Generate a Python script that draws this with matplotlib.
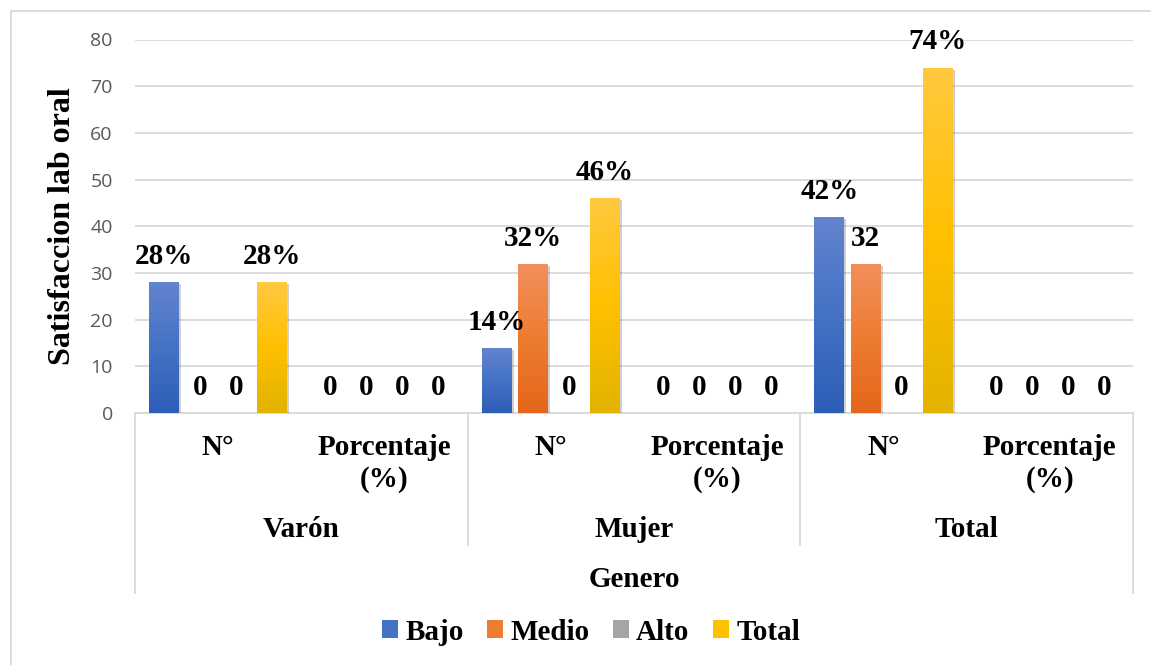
import numpy as np
import matplotlib
matplotlib.use("Agg")
import matplotlib.pyplot as plt
from matplotlib.colors import LinearSegmentedColormap
from matplotlib.patches import Patch
from matplotlib.lines import Line2D
import matplotlib.patheffects as pe

# ---- data -------------------------------------------------------------
groups = ["Varón", "Mujer", "Total"]
subcats = ["N°", "Porcentaje\n(%)"]
series = ["Bajo", "Medio", "Alto", "Total"]

# one value per sub-category: Varón N°, Varón %, Mujer N°, Mujer %, Total N°, Total %
bajo = [28, 0, 14, 0, 42, 0]
medio = [0, 0, 32, 0, 32, 0]
alto = [0, 0, 0, 0, 0, 0]
total = [28, 0, 46, 0, 74, 0]

labels_bajo = ["28%", "0", "14%", "0", "42%", "0"]
labels_medio = ["0", "0", "32%", "0", "32", "0"]
labels_alto = ["0", "0", "0", "0", "0", "0"]
labels_total = ["28%", "0", "46%", "0", "74%", "0"]

y_ticks = [0, 10, 20, 30, 40, 50, 60, 70, 80]
y_title = "Satisfaccion lab oral"
outer_title = "Genero"

# ---- style ------------------------------------------------------------
SERIF = "Liberation Serif"
FS = 21
W, H = 1151, 665
grad_colors = {
    "Bajo": ["#2D5DB7", "#4472C4", "#6384CF"],
    "Medio": ["#E4661A", "#ED7D31", "#F28F5C"],
    "Alto": ["#929292", "#A5A5A5", "#B5B5B5"],
    "Total": ["#E3B300", "#FFC000", "#FFC93F"],
}
solid = {"Bajo": "#4472C4", "Medio": "#ED7D31", "Alto": "#A5A5A5", "Total": "#FFC000"}

fig = plt.figure(figsize=(W / 100, H / 100), dpi=100)
fig.patch.set_facecolor("white")

ax_left, ax_right, ax_top, ax_bottom = 135, 1133, 39.5, 413
ax = fig.add_axes([ax_left / W, 1 - ax_bottom / H,
                   (ax_right - ax_left) / W, (ax_bottom - ax_top) / H])

n = len(bajo)
offsets = [-0.325, -0.108, 0.108, 0.325]
width = 0.18
grad = np.linspace(0, 1, 256).reshape(-1, 1)

all_vals = [bajo, medio, alto, total]
all_labels = [labels_bajo, labels_medio, labels_alto, labels_total]

for k, name in enumerate(series):
    xs = np.arange(n) + 0.5 + offsets[k]
    cmap = LinearSegmentedColormap.from_list(name, grad_colors[name])
    bars = ax.bar(xs, all_vals[k], width, color=solid[name], zorder=3,
                  path_effects=[pe.SimplePatchShadow(offset=(1.5, -1.5),
                                                     shadow_rgbFace="black",
                                                     alpha=0.18),
                                pe.Normal()])
    for bar, lab in zip(bars, all_labels[k]):
        h = bar.get_height()
        x0 = bar.get_x()
        if h > 0:
            im = ax.imshow(grad, extent=[x0, x0 + width, 0, h], cmap=cmap,
                           aspect="auto", origin="lower", zorder=3.5,
                           interpolation="bilinear")
            im.set_clip_path(bar)
        ax.annotate(lab, (x0 + width / 2, h), xytext=(0, 13),
                    textcoords="offset points", ha="center", va="baseline",
                    fontsize=FS, fontweight="bold", family=SERIF,
                    color="black", annotation_clip=False, zorder=5)

ax.set_xlim(0, n)
ax.set_ylim(0, 80)
ax.set_yticks(y_ticks)
ax.set_xticks([])
ax.yaxis.grid(True, color="#D9D9D9", lw=1.3)
ax.set_axisbelow(True)
for s in ["top", "left", "right"]:
    ax.spines[s].set_visible(False)
ax.spines["bottom"].set_color("#D9D9D9")
ax.spines["bottom"].set_linewidth(1.3)
ax.tick_params(axis="y", length=0, pad=16, labelsize=14, labelcolor="#595959")
for t in ax.get_yticklabels():
    t.set_family("Open Sans")

# ---- multi-level category axis ----------------------------------------
ppx = ax_bottom - ax_top


def ay(py):
    return (ax_bottom - py) / ppx


xt = ax.get_xaxis_transform()
line_kw = dict(color="#D9D9D9", lw=1.3, transform=xt, clip_on=False)
for xv in [0, n]:
    ax.add_line(Line2D([xv, xv], [0, ay(593)], **line_kw))
for xv in [2, 4]:
    ax.add_line(Line2D([xv, xv], [0, ay(545)], **line_kw))

txt_kw = dict(transform=xt, ha="center", va="baseline", fontsize=FS,
              fontweight="bold", family=SERIF, clip_on=False)
for i in range(n):
    lab = subcats[i % 2]
    for j, line in enumerate(lab.split("\n")):
        ax.text(i + 0.5, ay(455 + 32 * j), line, **txt_kw)
for g, name in enumerate(groups):
    ax.text(2 * g + 1, ay(537), name, **txt_kw)
ax.text(n / 2, ay(587), outer_title, **txt_kw)

# ---- axis title -------------------------------------------------------
fig.text(63 / W, 1 - 226 / H, y_title, rotation=90, ha="center", va="center",
         fontsize=23, fontweight="bold", family=SERIF)

# ---- legend -----------------------------------------------------------
handles = [Patch(facecolor=solid[s], edgecolor="none") for s in series]
fig.legend(handles, series, loc="center", bbox_to_anchor=(591 / W, 1 - 632 / H),
           ncol=4, frameon=False, handlelength=0.55, handleheight=0.55,
           handletextpad=0.25, columnspacing=0.8,
           prop={"family": SERIF, "weight": "bold", "size": FS})

# ---- outer chart frame --------------------------------------------------
frame_kw = dict(color="#D9D9D9", lw=1.3, transform=None)
fig.add_artist(Line2D([11, W], [H - 11, H - 11], **frame_kw))
fig.add_artist(Line2D([11, 11], [0, H - 11], **frame_kw))

fig.savefig("out.png", dpi=100, facecolor="white")
